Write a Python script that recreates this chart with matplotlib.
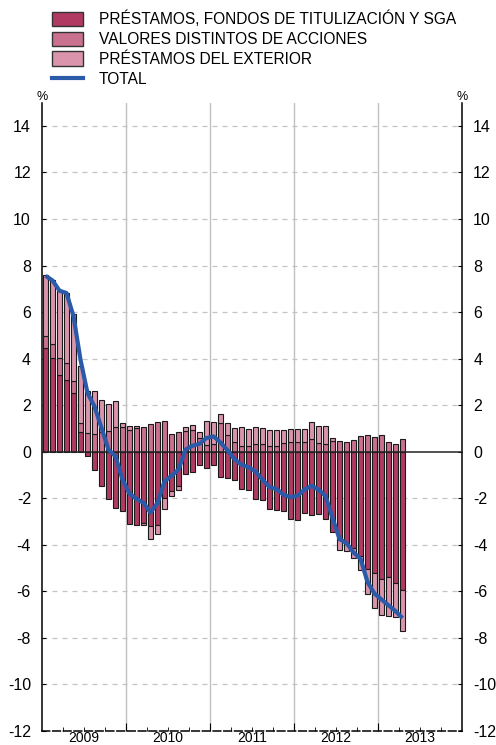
import numpy as np
import matplotlib.pyplot as plt
import matplotlib.transforms as mtransforms
from matplotlib.patches import Patch
from matplotlib.lines import Line2D

plt.rcParams['font.family'] = ['Liberation Sans', 'DejaVu Sans']
plt.rcParams['axes.unicode_minus'] = False

# Datos mensuales ene-2009 a abr-2013 (%)
prestamos = [4.46, 4.03, 3.28, 3.09, 2.52, 0.83, -0.17, -0.77, -1.46, -2.03, -2.40, -2.56,
             -3.10, -3.14, -3.05, -3.21, -3.13, -1.98, -1.70, -1.49, -0.96, -0.87, -0.56, -0.70,
             -0.59, -1.09, -1.13, -1.20, -1.60, -1.63, -2.03, -2.08, -2.46, -2.49, -2.56, -2.89,
             -2.92, -2.64, -2.74, -2.66, -2.89, -3.44, -3.78, -3.95, -4.15, -4.50, -5.04, -5.21,
             -5.47, -5.39, -5.64, -5.93]
valores = [0.53, 0.61, 0.73, 0.72, 0.53, 0.40, 0.80, 0.77, 0.86, 0.90, 1.06, 1.06,
           0.95, 1.00, 1.06, 1.20, 1.27, 1.30, 0.77, 0.85, 0.87, 0.92, 0.59, 0.30,
           0.33, 1.23, 0.73, 0.40, 0.26, 0.23, 0.33, 0.34, 0.26, 0.23, 0.37, 0.40,
           0.40, 0.42, 0.54, 0.37, 0.34, 0.44, 0.44, 0.40, 0.49, 0.66, 0.70, 0.63,
           0.70, 0.40, 0.33, 0.54]
exterior = [2.61, 2.75, 2.88, 3.01, 2.87, 2.44, 1.79, 1.85, 1.37, 1.15, 1.12, 0.17,
            0.17, 0.10, -0.10, -0.54, -0.41, -0.48, -0.22, -0.14, 0.18, 0.23, 0.26, 1.03,
            0.94, 0.40, 0.50, 0.60, 0.80, 0.76, 0.73, 0.68, 0.69, 0.69, 0.55, 0.57,
            0.57, 0.57, 0.73, 0.72, 0.75, 0.15, -0.43, -0.32, -0.40, -0.57, -1.06, -1.51,
            -1.53, -1.66, -1.48, -1.79]
total = [7.56, 7.36, 6.92, 6.82, 5.82, 3.95, 2.52, 1.95, 1.02, 0.09, -0.20, -1.20,
         -1.80, -2.02, -2.20, -2.61, -2.20, -1.27, -1.03, -0.77, 0.09, 0.26, 0.34, 0.59,
         0.66, 0.40, 0.06, -0.32, -0.56, -0.66, -0.85, -1.20, -1.52, -1.60, -1.85, -1.95,
         -1.89, -1.63, -1.46, -1.63, -1.90, -2.85, -3.75, -3.93, -4.33, -4.60, -5.60, -6.10,
         -6.35, -6.60, -6.85, -7.15]
anios = ['2009', '2010', '2011', '2012', '2013']

series = [
    ("PRÉSTAMOS, FONDOS DE TITULIZACIÓN Y SGA", prestamos, "#b03a62"),
    ("VALORES DISTINTOS DE ACCIONES", valores, "#c9718f"),
    ("PRÉSTAMOS DEL EXTERIOR", exterior, "#da95ad"),
]

fig = plt.figure(figsize=(4.96, 7.45), dpi=100)
ax = fig.add_axes([0.0847, 0.0188, 0.8468, 0.8434])

x = np.arange(len(total)) + 0.5

# Barras apiladas: positivos hacia arriba, negativos hacia abajo
base_pos = np.zeros(len(x))
base_neg = np.zeros(len(x))
for nombre, valores_s, color in series:
    v = np.array(valores_s)
    abajo = np.where(v >= 0, base_pos, base_neg)
    ax.bar(x, v, width=0.82, bottom=abajo, color=color, edgecolor="#1a1a1a",
           linewidth=0.8, zorder=3)
    base_pos = base_pos + np.where(v >= 0, v, 0)
    base_neg = base_neg + np.where(v < 0, v, 0)

ax.plot(x, total, color="#2b5aa8", linewidth=3, zorder=5, solid_capstyle="butt")

# Rejilla y ejes
ax.set_xlim(0, 60)
ax.set_ylim(-12, 15)
for yv in range(-10, 15, 2):
    if yv != 0:
        ax.axhline(yv, color="#c4c4c4", linewidth=0.9, linestyle=(0, (4, 4)), zorder=1)
ax.axhline(0, color="#222222", linewidth=1.1, zorder=4)
for xv in [12, 24, 36, 48]:
    ax.axvline(xv, color="#c0c0c0", linewidth=1.0, zorder=1)

ax.spines['top'].set_visible(False)
for lado in ['left', 'right', 'bottom']:
    ax.spines[lado].set_linewidth(1.1)
ax.spines['bottom'].set_linestyle((0, (5, 2)))

ax.set_yticks(range(-12, 15, 2))
ax.tick_params(axis='y', which='both', direction='in', length=3, labelsize=11.5,
               left=True, right=True, labelleft=True, labelright=True, pad=8)
ax.set_xticks([12, 24, 36, 48])
ax.set_xticks(np.arange(3, 60, 3), minor=True)
ax.tick_params(axis='x', which='major', direction='in', length=6, labelbottom=False)
ax.tick_params(axis='x', which='minor', direction='in', length=3)

# Años centrados en cada tramo, pegados al borde inferior de la figura
trans = mtransforms.blended_transform_factory(ax.transData, fig.transFigure)
for i, a in enumerate(anios):
    ax.text(6 + 12 * i, 0.0, a, ha='center', va='bottom', fontsize=10, transform=trans)

fig.text(0.0847, 0.862, "%", ha='center', va='bottom', fontsize=9)
fig.text(0.9315, 0.862, "%", ha='center', va='bottom', fontsize=9)

# Leyenda
manejadores = [Patch(facecolor=c, edgecolor="#333333", linewidth=1) for _, _, c in series]
manejadores.append(Line2D([0], [0], color="#2b5aa8", linewidth=3))
etiquetas = [n for n, _, _ in series] + ["TOTAL"]
fig.legend(manejadores, etiquetas, loc='upper left', bbox_to_anchor=(0.093, 0.994),
           frameon=False, fontsize=11.2, handlelength=2.0, handleheight=1.05,
           labelspacing=0.28, handletextpad=1.0, borderaxespad=0)

plt.savefig("out.png", dpi=100)
